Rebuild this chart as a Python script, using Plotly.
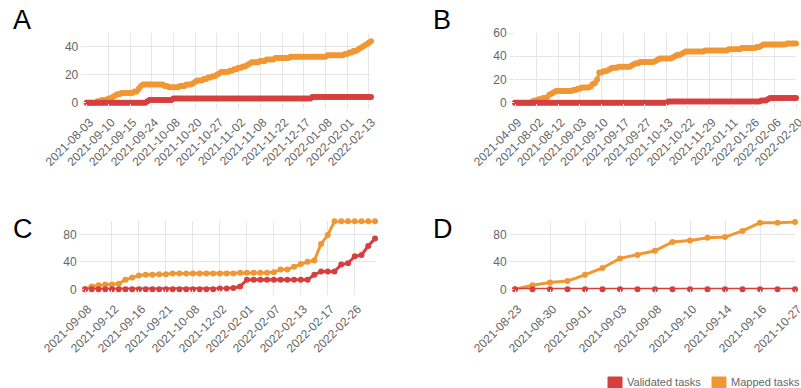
import plotly.graph_objects as go

RED = "#d73f3f"
ORANGE = "#f09733"
GRID = "#e6e6e6"
TICK_GREY = "#666666"
FONT = "Liberation Sans, Arial, sans-serif"

# ---- Panel A ----
a_labels = ["2021-08-03", "2021-09-10", "2021-09-15", "2021-09-24", "2021-10-08",
            "2021-10-20", "2021-10-27", "2021-11-02", "2021-11-08", "2021-11-22",
            "2021-12-17", "2022-01-08", "2022-02-01", "2022-02-13"]
a_mapped = [
    0, 0, 0, 0, 0, 1, 1, 2, 2, 2,
    3, 3, 4, 5, 6, 6, 7, 7, 7, 7,
    7, 7, 8, 8, 10, 12, 13, 13, 13, 13,
    13, 13, 13, 13, 13, 13, 12, 12, 11, 11,
    11, 11, 11, 12, 12, 12, 13, 13, 13, 14,
    15, 16, 16, 16, 17, 17, 18, 18, 19, 19,
    20, 21, 22, 22, 22, 22, 23, 23, 24, 24,
    25, 25, 26, 26, 27, 28, 29, 29, 29, 29,
    30, 30, 30, 31, 31, 31, 31, 32, 32, 32,
    32, 32, 32, 32, 33, 33, 33, 33, 33, 33,
    33, 33, 33, 33, 33, 33, 33, 33, 33, 33,
    33, 34, 34, 34, 34, 34, 34, 34, 34, 35,
    35, 36, 36, 37, 37, 38, 39, 40, 41, 42,
    43, 44,
]
a_validated = [
    0, 0, 0, 0, 0, 0, 0, 0, 0, 0,
    0, 0, 0, 0, 0, 0, 0, 0, 0, 0,
    0, 0, 0, 0, 0, 0, 0, 0, 1, 2,
    2, 2, 2, 2, 2, 2, 2, 2, 2, 2,
    3, 3, 3, 3, 3, 3, 3, 3, 3, 3,
    3, 3, 3, 3, 3, 3, 3, 3, 3, 3,
    3, 3, 3, 3, 3, 3, 3, 3, 3, 3,
    3, 3, 3, 3, 3, 3, 3, 3, 3, 3,
    3, 3, 3, 3, 3, 3, 3, 3, 3, 3,
    3, 3, 3, 3, 3, 3, 3, 3, 3, 3,
    3, 3, 3, 3, 4, 4, 4, 4, 4, 4,
    4, 4, 4, 4, 4, 4, 4, 4, 4, 4,
    4, 4, 4, 4, 4, 4, 4, 4, 4, 4,
    4, 4,
]

# ---- Panel B ----
b_labels = ["2021-04-09", "2021-08-02", "2021-08-12", "2021-09-03", "2021-09-10",
            "2021-09-17", "2021-09-27", "2021-10-13", "2021-10-22", "2021-11-29",
            "2022-01-11", "2022-01-26", "2022-02-06", "2022-02-20"]
b_mapped = [
    0, 0, 0, 0, 0, 0, 0, 0, 1, 2,
    2, 3, 3, 4, 4, 5, 7, 8, 9, 10,
    10, 10, 10, 10, 10, 10, 10, 11, 11, 12,
    12, 13, 13, 13, 13, 14, 16, 17, 20, 26,
    26, 27, 27, 28, 29, 30, 30, 30, 31, 31,
    31, 31, 31, 31, 32, 33, 34, 34, 35, 35,
    35, 35, 35, 35, 35, 36, 37, 38, 38, 38,
    38, 38, 38, 39, 40, 41, 41, 42, 43, 44,
    44, 44, 44, 44, 44, 44, 44, 44, 45, 45,
    45, 45, 45, 45, 45, 45, 45, 45, 45, 46,
    46, 46, 46, 46, 46, 47, 47, 47, 47, 47,
    47, 47, 48, 48, 49, 50, 50, 50, 50, 50,
    50, 50, 50, 50, 50, 50, 51, 51, 51, 51,
    51,
]
b_validated = [
    0, 0, 0, 0, 0, 0, 0, 0, 0, 0,
    0, 0, 0, 0, 0, 0, 0, 0, 0, 0,
    0, 0, 0, 0, 0, 0, 0, 0, 0, 0,
    0, 0, 0, 0, 0, 0, 0, 0, 0, 0,
    0, 0, 0, 0, 0, 0, 0, 0, 0, 0,
    0, 0, 0, 0, 0, 0, 0, 0, 0, 0,
    0, 0, 0, 0, 0, 0, 0, 0, 0, 0,
    0, 1, 1, 1, 1, 1, 1, 1, 1, 1,
    1, 1, 1, 1, 1, 1, 1, 1, 1, 1,
    1, 1, 1, 1, 1, 1, 1, 1, 1, 1,
    1, 1, 1, 1, 1, 1, 1, 1, 1, 1,
    1, 1, 1, 1, 2, 2, 2, 3, 4, 4,
    4, 4, 4, 4, 4, 4, 4, 4, 4, 4,
    4,
]

# ---- Panel C ----
c_labels = ["2021-09-08", "2021-09-12", "2021-09-16", "2021-09-21", "2021-10-08",
            "2021-12-02", "2022-02-01", "2022-02-07", "2022-02-13", "2022-02-17",
            "2022-02-26"]
c_mapped = [
    0, 4, 6, 7, 7, 8, 14, 17, 20, 21,
    21, 22, 22, 23, 23, 23, 23, 23, 23, 23,
    23, 23, 23, 24, 24, 24, 24, 24, 25, 29,
    29, 33, 37, 40, 42, 66, 79, 99, 99, 99,
    99, 99, 99, 99,
]
c_validated = [
    0, 0, 0, 0, 0, 0, 0, 0, 0, 0,
    0, 0, 0, 0, 0, 0, 0, 0, 0, 0,
    1, 1, 2, 4, 14, 14, 14, 14, 14, 14,
    14, 14, 14, 14, 21, 26, 26, 26, 36, 38,
    48, 50, 63, 74,
]

# ---- Panel D ----
d_labels = ["2021-08-23", "2021-08-30", "2021-09-01", "2021-09-03", "2021-09-08",
            "2021-09-10", "2021-09-14", "2021-09-16", "2021-10-27"]
d_mapped = [0, 6, 10, 12, 21, 31, 45, 50, 56, 69, 71, 75, 76, 85, 97, 97, 98]
d_validated = [0, 0, 0, 0, 0, 0, 0, 0, 0, 0, 0, 0, 0, 0, 0, 0, 0]

W, H = 801, 388

# letter, labels, mapped, validated, label step, y max, y ticks,
# plot box in pixels (left, right, top, bottom)
panels = [
    ("A", a_labels, a_mapped, a_validated, 10, 50, [0, 20, 40], (86.7, 371.0, 33.0, 102.7)),
    ("B", b_labels, b_mapped, b_validated, 10, 60, [0, 20, 40, 60], (515.0, 796.0, 33.0, 102.7)),
    ("C", c_labels, c_mapped, c_validated, 4, 100, [0, 40, 80], (85.0, 375.0, 220.6, 289.3)),
    ("D", d_labels, d_mapped, d_validated, 2, 100, [0, 40, 80], (515.0, 795.0, 220.6, 289.3)),
]

fig = go.Figure()
layout = {}
annotations = []

for k, (letter, labels, mapped, validated, step, ymax, yticks, box) in enumerate(panels, start=1):
    left, right, top, bottom = box
    n = len(mapped)
    xs = list(range(n))
    xa = "x" if k == 1 else f"x{k}"
    ya = "y" if k == 1 else f"y{k}"

    fig.add_trace(go.Scatter(
        x=xs, y=mapped, mode="lines+markers", name="Mapped tasks",
        line=dict(color=ORANGE, width=3), marker=dict(color=ORANGE, size=6),
        cliponaxis=False, showlegend=False, xaxis=xa, yaxis=ya))
    fig.add_trace(go.Scatter(
        x=xs, y=validated, mode="lines+markers", name="Validated tasks",
        line=dict(color=RED, width=3), marker=dict(color=RED, size=6),
        cliponaxis=False, showlegend=False, xaxis=xa, yaxis=ya))

    tickvals = list(range(0, n, step))[:len(labels)]
    layout["xaxis" if k == 1 else f"xaxis{k}"] = dict(
        domain=[left / W, right / W], range=[0, n - 1], anchor=ya, automargin=False,
        tickmode="array", tickvals=tickvals, ticktext=labels, tickangle=-45,
        ticklabeloverflow="allow", ticklabelshift=3, ticklabelstandoff=2,
        showgrid=True, gridcolor=GRID, gridwidth=1, zeroline=False, showline=False,
        ticks="outside", ticklen=5, tickcolor=GRID,
        tickfont=dict(size=12, color=TICK_GREY, family=FONT),
    )
    layout["yaxis" if k == 1 else f"yaxis{k}"] = dict(
        domain=[(H - bottom) / H, (H - top) / H], range=[0, ymax], anchor=xa, automargin=False,
        tickmode="array", tickvals=yticks,
        showgrid=True, gridcolor=GRID, gridwidth=1, zeroline=False, showline=False,
        ticks="outside", ticklen=5, tickcolor=GRID,
        tickfont=dict(size=12, color=TICK_GREY, family=FONT),
    )

    lx = 11 if letter in ("A", "C") else 431
    ly = 3 if letter in ("A", "B") else 212
    annotations.append(dict(
        text=letter, xref="paper", yref="paper", x=lx / W, y=1 - ly / H,
        xanchor="left", yanchor="top", showarrow=False,
        font=dict(size=27, color="black", family=FONT)))

# legend drawn as colour boxes with captions
legend_items = [("Validated tasks", RED, 608), ("Mapped tasks", ORANGE, 712)]
shapes = []
for text, color, x0 in legend_items:
    shapes.append(dict(type="rect", xref="paper", yref="paper",
                       x0=x0 / W, x1=(x0 + 14) / W, y0=(H - 392) / H, y1=(H - 377) / H,
                       fillcolor=color, line=dict(color=color, width=1)))
    annotations.append(dict(
        text=text, xref="paper", yref="paper", x=(x0 + 17) / W, y=1 - 382 / H,
        xanchor="left", yanchor="middle", showarrow=False,
        font=dict(size=11, color=TICK_GREY, family=FONT)))

fig.update_layout(
    width=W, height=H, margin=dict(l=0, r=0, t=0, b=0, autoexpand=False),
    paper_bgcolor="white", plot_bgcolor="white",
    annotations=annotations, shapes=shapes, showlegend=False,
    font=dict(family=FONT),
    **layout,
)

fig.write_html("out.html")
